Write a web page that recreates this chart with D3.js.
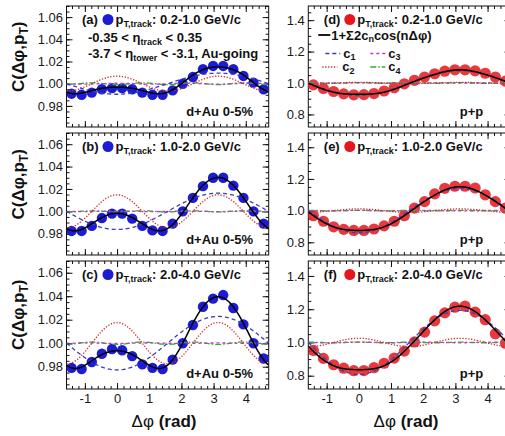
<!DOCTYPE html>
<html><head><meta charset="utf-8">
<script src="https://cdn.jsdelivr.net/npm/d3@7"></script>
<style>
body{margin:0;background:#fff;}
svg{display:block;font-family:"Liberation Sans",Arial,Helvetica,sans-serif;}
</style></head><body>
<svg id="chart" width="505" height="436"></svg>
<script>
// ---------------- data ----------------
const phiBins = [-1.414, -1.100, -0.785, -0.471, -0.157, 0.157, 0.471, 0.785, 1.100, 1.414,
                 1.728, 2.042, 2.356, 2.670, 2.985, 3.299, 3.613, 3.927, 4.241, 4.555];

const dAu_pt02_10 = [0.991, 0.990, 0.992, 0.995, 0.996, 0.996, 0.995, 0.992, 0.990, 0.990,
                     0.994, 1.000, 1.006, 1.013, 1.016, 1.016, 1.013, 1.007, 1.001, 0.995];
const dAu_pt10_20 = [0.9825, 0.9825, 0.987, 0.994, 0.998, 0.998, 0.9935, 0.987, 0.983, 0.9825,
                     0.989, 1.000, 1.012, 1.0225, 1.030, 1.030, 1.023, 1.012, 1.000, 0.989];
const dAu_pt20_40 = [0.979, 0.978, 0.984, 0.991, 0.995, 0.994, 0.989, 0.982, 0.979, 0.978,
                     0.986, 1.000, 1.0155, 1.031, 1.038, 1.041, 1.030, 1.016, 1.000, 0.987];
const pp_pt02_10  = [0.988, 0.965, 0.946, 0.931, 0.925, 0.926, 0.933, 0.949, 0.970, 0.995,
                     1.017, 1.038, 1.059, 1.075, 1.084, 1.084, 1.077, 1.062, 1.038, 1.012];
const pp_pt10_20  = [0.968, 0.933, 0.898, 0.882, 0.875, 0.875, 0.884, 0.904, 0.933, 0.968,
                     1.016, 1.057, 1.106, 1.141, 1.154, 1.154, 1.143, 1.100, 1.057, 1.016];
const pp_pt20_40  = [0.952, 0.904, 0.866, 0.845, 0.830, 0.831, 0.848, 0.875, 0.906, 0.948,
                     1.003, 1.062, 1.130, 1.178, 1.212, 1.218, 1.183, 1.137, 1.052, 0.995];

// Fourier coefficients c_n per panel (a..f)
const c1Values = [-0.00475, -0.0081, -0.0114, -0.0395, -0.070, -0.0965];
const c2Values = [ 0.0034,   0.0074,  0.0088,  0.002,   0.0055,  0.0125];
const c3Values = [ 0.0002,   0.0001, -0.0001,  0.0005,  0.001,   0.001];
const c4Values = [-0.0004,  -0.00025,-0.0005,  0.001,   0.001,   0.001];

const panelLetters = ["(a)", "(b)", "(c)", "(d)", "(e)", "(f)"];
const ptRanges = ["0.2-1.0 GeV/c", "1.0-2.0 GeV/c", "2.0-4.0 GeV/c",
                  "0.2-1.0 GeV/c", "1.0-2.0 GeV/c", "2.0-4.0 GeV/c"];
const systemLabels = ["d+Au 0-5%", "p+p"];
const xTickValues = [-1, 0, 1, 2, 3, 4];
const leftYTickValues = [0.98, 1.00, 1.02, 1.04, 1.06];
const rightYTickValues = [0.8, 1.0, 1.2, 1.4];

const panelData = [dAu_pt02_10, dAu_pt10_20, dAu_pt20_40, pp_pt02_10, pp_pt10_20, pp_pt20_40];

// ---------------- layout ----------------
const cols = [{x0: 66.5, x1: 268.7}, {x0: 308.3, x1: 510.5}];
const rows = [{y0: 6, y1: 127}, {y0: 133, y1: 255}, {y0: 261, y1: 389}];
const yDomains = [[0.961, 1.07], [0.72, 1.49]];
const FONT = '"Liberation Sans",Arial,Helvetica,sans-serif';

const styles = {
  c1: {stroke: "#3d3db8", dash: "4,3"},
  c2: {stroke: "#d02a2a", dash: "1.3,1.6"},
  c3: {stroke: "#c03cc0", dash: "3,3"},
  c4: {stroke: "#2eb02e", dash: "6,2,1.5,2"}
};

const svg = d3.select("#chart");
const defs = svg.append("defs");

function styleAxis(g, size) {
  g.select(".domain").remove();
  g.selectAll(".tick line").attr("stroke", "#111").attr("stroke-width", 1);
  g.selectAll(".tick text").attr("fill", "#1a1a1a").style("font-size", size + "px").style("font-family", FONT);
}

function pLabel(g, xPos, yPos, range) {
  const t = g.append("text").attr("x", xPos).attr("y", yPos)
    .attr("font-weight", "bold").attr("font-size", 13).attr("fill", "#111");
  t.append("tspan").text("p");
  t.append("tspan").attr("font-size", 9).attr("dy", 2.5).text("T,track");
  t.append("tspan").attr("dy", -2.5).text(": " + range);
}

panelData.forEach((vals, i) => {
  const ci = i < 3 ? 0 : 1;
  const ri = i % 3;
  const C = cols[ci], R = rows[ri];
  const x = d3.scaleLinear().domain([-Math.PI / 2, 3 * Math.PI / 2]).range([C.x0, C.x1]);
  const y = d3.scaleLinear().domain(yDomains[ci]).range([R.y1, R.y0]);
  const g = svg.append("g");

  defs.append("clipPath").attr("id", "clip" + i).append("rect")
    .attr("x", C.x0).attr("y", R.y0).attr("width", C.x1 - C.x0).attr("height", R.y1 - R.y0);

  // frame
  g.append("rect").attr("x", C.x0).attr("y", R.y0).attr("width", C.x1 - C.x0).attr("height", R.y1 - R.y0)
    .attr("fill", "none").attr("stroke", "#111").attr("stroke-width", 1);

  // axes: major + minor, on all four sides, ticks inward
  const yMajor = ci === 0 ? leftYTickValues : rightYTickValues;
  const yMinor = ci === 0 ? d3.range(0.965, 1.0701, 0.005) : d3.range(0.75, 1.4801, 0.05);
  const xMinor = d3.range(-1.4, 4.61, 0.2);
  const yFmt = ci === 0 ? d3.format(".2f") : d3.format(".1f");

  const gb = g.append("g").attr("transform", `translate(0,${R.y1})`)
    .call(d3.axisBottom(x).tickValues(xTickValues).tickSizeInner(-6).tickSizeOuter(0).tickPadding(5)
      .tickFormat(ri === 2 ? (d => String(d)) : () => ""));
  styleAxis(gb, 13);
  styleAxis(g.append("g").attr("transform", `translate(0,${R.y1})`)
    .call(d3.axisBottom(x).tickValues(xMinor).tickSizeInner(-3).tickSizeOuter(0).tickFormat(() => "")), 13);
  styleAxis(g.append("g").attr("transform", `translate(0,${R.y0})`)
    .call(d3.axisTop(x).tickValues(xTickValues).tickSizeInner(-6).tickSizeOuter(0).tickFormat(() => "")), 13);
  styleAxis(g.append("g").attr("transform", `translate(0,${R.y0})`)
    .call(d3.axisTop(x).tickValues(xMinor).tickSizeInner(-3).tickSizeOuter(0).tickFormat(() => "")), 13);

  styleAxis(g.append("g").attr("transform", `translate(${C.x0},0)`)
    .call(d3.axisLeft(y).tickValues(yMajor).tickSizeInner(-6).tickSizeOuter(0).tickPadding(3.5).tickFormat(yFmt)), 13);
  styleAxis(g.append("g").attr("transform", `translate(${C.x0},0)`)
    .call(d3.axisLeft(y).tickValues(yMinor).tickSizeInner(-3).tickSizeOuter(0).tickFormat(() => "")), 13);
  styleAxis(g.append("g").attr("transform", `translate(${C.x1},0)`)
    .call(d3.axisRight(y).tickValues(yMajor).tickSizeInner(-6).tickSizeOuter(0).tickFormat(() => "")), 13);
  styleAxis(g.append("g").attr("transform", `translate(${C.x1},0)`)
    .call(d3.axisRight(y).tickValues(yMinor).tickSizeInner(-3).tickSizeOuter(0).tickFormat(() => "")), 13);

  const plot = g.append("g").attr("clip-path", `url(#clip${i})`);

  // points
  const isLeft = ci === 0;
  plot.selectAll("circle.pt").data(phiBins.map((p, k) => [p, vals[k]])).join("circle")
    .attr("class", "pt")
    .attr("cx", d => x(d[0])).attr("cy", d => y(d[1]))
    .attr("r", isLeft ? 5.2 : 5.6)
    .attr("fill", isLeft ? "#1c1cd4" : "#e5161c")
    .attr("fill-opacity", isLeft ? 1 : 0.85);

  // model curves
  const grid = d3.range(0, 241).map(k => -Math.PI / 2 + k * 2 * Math.PI / 240);
  const cs = [c1Values[i], c2Values[i], c3Values[i], c4Values[i]];
  const line = d3.line().x(d => x(d[0])).y(d => y(d[1]));
  ["c4", "c3", "c2", "c1"].forEach(key => {
    const n = +key[1];
    const pts = grid.map(p => [p, 1 + 2 * cs[n - 1] * Math.cos(n * p)]);
    plot.append("path").attr("d", line(pts)).attr("fill", "none")
      .attr("stroke", styles[key].stroke).attr("stroke-width", 1.3)
      .attr("stroke-dasharray", styles[key].dash);
  });
  const fitPts = grid.map(p => [p, 1 + 2 * (cs[0] * Math.cos(p) + cs[1] * Math.cos(2 * p) + cs[2] * Math.cos(3 * p) + cs[3] * Math.cos(4 * p))]);
  plot.append("path").attr("d", line(fitPts)).attr("fill", "none")
    .attr("stroke", "#000").attr("stroke-width", 1.5);

  // labels
  const ly = R.y0 + 18;
  g.append("text").attr("x", C.x0 + 15.5).attr("y", ly).attr("font-weight", "bold").attr("font-size", 13)
    .attr("fill", "#111").text(panelLetters[i]);
  g.append("circle").attr("cx", C.x0 + 41.5).attr("cy", ly - 4.5).attr("r", 5.5)
    .attr("fill", isLeft ? "#1c1cd4" : "#e5161c");
  pLabel(g, C.x0 + 49, ly, ptRanges[i]);

  g.append("text").attr("x", isLeft ? C.x0 + 186.5 : C.x0 + 175).attr("y", R.y1 - 11)
    .attr("text-anchor", "end").attr("font-weight", "bold").attr("font-size", 13).attr("fill", "#111")
    .text(systemLabels[ci]);

  if (i === 0) {
    const t2 = g.append("text").attr("x", C.x0 + 21.5).attr("y", 42).attr("font-weight", "bold").attr("font-size", 13).attr("fill", "#111");
    t2.append("tspan").text("-0.35 < η");
    t2.append("tspan").attr("font-size", 9).attr("dy", 3).text("track");
    t2.append("tspan").attr("dy", -3).text(" < 0.35");
    const t3 = g.append("text").attr("x", C.x0 + 21.5).attr("y", 58).attr("font-weight", "bold").attr("font-size", 13).attr("fill", "#111");
    t3.append("tspan").text("-3.7 < η");
    t3.append("tspan").attr("font-size", 9).attr("dy", 3).text("tower");
    t3.append("tspan").attr("dy", -3).text(" < -3.1, Au-going");
  }
  if (i === 3) {
    const L = C.x0;
    g.append("line").attr("x1", L + 10).attr("x2", L + 22).attr("y1", 35).attr("y2", 35)
      .attr("stroke", "#000").attr("stroke-width", 1.8);
    const tf = g.append("text").attr("x", L + 23).attr("y", 39.5).attr("font-weight", "bold").attr("font-size", 13).attr("fill", "#111");
    tf.append("tspan").text("1+Σ2c");
    tf.append("tspan").attr("font-size", 9).attr("dy", 2.5).text("n");
    tf.append("tspan").attr("dy", -2.5).text("cos(nΔφ)");
    const legendItems = [
      {key: "c1", lx: L + 17, ly: 53.5},
      {key: "c3", lx: L + 62, ly: 53.5},
      {key: "c2", lx: L + 14, ly: 67},
      {key: "c4", lx: L + 62, ly: 67}
    ];
    legendItems.forEach(it => {
      g.append("line").attr("x1", it.lx).attr("x2", it.lx + 15).attr("y1", it.ly).attr("y2", it.ly)
        .attr("stroke", styles[it.key].stroke).attr("stroke-width", 1.4).attr("stroke-dasharray", styles[it.key].dash);
      const tt = g.append("text").attr("x", it.key === "c2" ? it.lx + 20 : it.lx + 18).attr("y", it.ly + 4)
        .attr("font-weight", "bold").attr("font-size", 13).attr("fill", "#111");
      tt.append("tspan").text("c");
      tt.append("tspan").attr("font-size", 9).attr("dy", 2.5).text(it.key[1]);
    });
  }

  // y title on the left column
  if (ci === 0) {
    const cy = R.y0 + 0.42 * (R.y1 - R.y0);
    const yt = svg.append("text").attr("transform", `translate(24,${cy}) rotate(-90)`)
      .attr("text-anchor", "middle").attr("font-weight", "bold").attr("font-size", 17).attr("fill", "#111");
    yt.append("tspan").text("C(Δφ,p");
    yt.append("tspan").attr("font-size", 12).attr("dy", 4).text("T");
    yt.append("tspan").attr("dy", -4).text(")");
  }
  // x title under the bottom row
  if (ri === 2) {
    const xt = svg.append("text").attr("x", ci === 0 ? 164 : 406).attr("y", 427)
      .attr("text-anchor", "middle").attr("font-size", 17).attr("fill", "#111");
    xt.append("tspan").text("Δφ ");
    xt.append("tspan").attr("font-weight", "bold").text("(rad)");
  }
});
</script>
</body></html>
